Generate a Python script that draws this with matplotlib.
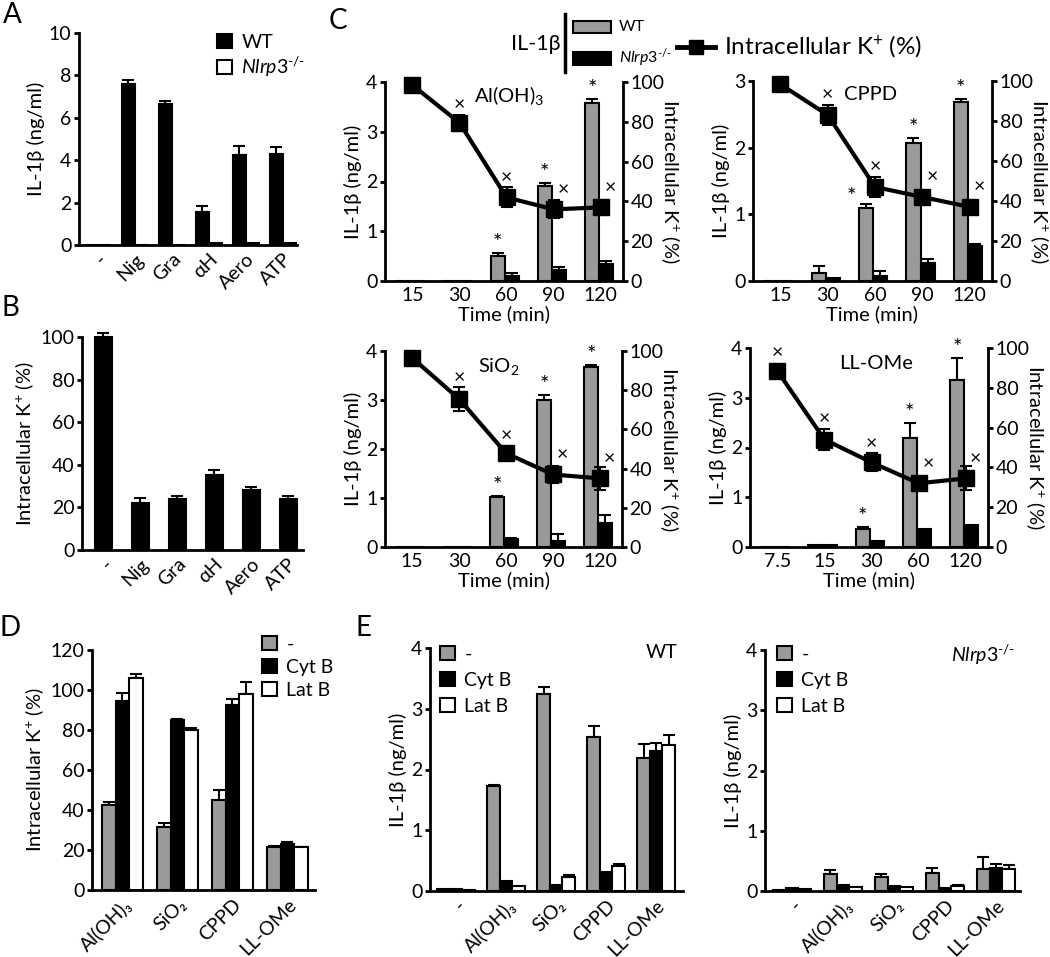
import matplotlib
matplotlib.use('Agg')
import matplotlib.pyplot as plt
import numpy as np
from matplotlib.patches import Rectangle, Patch
from matplotlib.lines import Line2D

FONT = 'Lato'
plt.rcParams['font.family'] = [FONT, 'DejaVu Sans']
plt.rcParams['mathtext.fontset'] = 'custom'
plt.rcParams['mathtext.rm'] = FONT
plt.rcParams['mathtext.it'] = FONT + ':italic'
plt.rcParams['mathtext.bf'] = FONT + ':bold'
plt.rcParams['font.size'] = 14

GREY = '#9a9a9a'
W, H = 1050, 957
FS = 14      # tick labels
LS = 14.5    # axis labels
KO = '$\\mathit{Nlrp3}^{\\mathit{\u2010/\u2010}}$'

# ---------------- data ----------------
# Panel A
a_cats = ['-', 'Nig', 'Gra', 'αH', 'Aero', 'ATP']
a_wt = [0, 7.6, 6.65, 1.55, 4.25, 4.3]
a_wt_err = [0, 0.2, 0.15, 0.3, 0.4, 0.3]
a_ko = [0, 0, 0, 0.08, 0.08, 0.08]
a_ko_err = [0, 0, 0, 0, 0, 0]

# Panel B
b_cats = ['-', 'Nig', 'Gra', 'αH', 'Aero', 'ATP']
b_k = [100, 22, 24, 35, 28, 24]
b_k_err = [2, 2.5, 1.5, 2.5, 1.8, 1.5]

# Panel C  (IL-1b ng/ml for WT / Nlrp3-/-, intracellular K+ %)
c_al_times = ['15', '30', '60', '90', '120']
c_al_wt = [0, 0, 0.5, 1.9, 3.58]
c_al_wt_err = [0, 0, 0.07, 0.07, 0.08]
c_al_ko = [0, 0, 0.1, 0.22, 0.35]
c_al_ko_err = [0, 0, 0.06, 0.06, 0.06]
c_al_k = [98.5, 79.5, 42, 36, 37]
c_al_k_err = [1.5, 4, 5, 4.5, 2]
c_al_star = [0, 0, 1, 1, 1]
c_al_cross = [0, 1, 1, 1, 1]

c_cppd_times = ['15', '30', '60', '90', '120']
c_cppd_wt = [0, 0.12, 1.1, 2.07, 2.68]
c_cppd_wt_err = [0, 0.1, 0.05, 0.07, 0.05]
c_cppd_ko = [0, 0.05, 0.08, 0.27, 0.52]
c_cppd_ko_err = [0, 0, 0.07, 0.06, 0.03]
c_cppd_k = [98.3, 83, 47, 42, 37]
c_cppd_k_err = [1.5, 5, 5, 2, 2]
c_cppd_star = [0, 0, 1, 1, 1]
c_cppd_cross = [0, 1, 1, 1, 1]

c_si_times = ['15', '30', '60', '90', '120']
c_si_wt = [0, 0, 1.03, 3.0, 3.67]
c_si_wt_err = [0, 0, 0.02, 0.1, 0.05]
c_si_ko = [0, 0, 0.17, 0.12, 0.48]
c_si_ko_err = [0, 0, 0.01, 0.15, 0.17]
c_si_k = [96.5, 75.5, 47.8, 37, 35]
c_si_k_err = [1, 6, 1, 4.4, 6]
c_si_star = [0, 0, 1, 1, 1]
c_si_cross = [0, 1, 1, 1, 1]

c_ll_times = ['7.5', '15', '30', '60', '120']
c_ll_wt = [0, 0.05, 0.37, 2.2, 3.35]
c_ll_wt_err = [0, 0, 0.03, 0.3, 0.45]
c_ll_ko = [0, 0.05, 0.13, 0.37, 0.45]
c_ll_ko_err = [0, 0, 0, 0, 0]
c_ll_k = [88.5, 54, 42.5, 32, 34.5]
c_ll_k_err = [2, 5.3, 4.5, 2, 6]
c_ll_star = [0, 0, 1, 1, 1]
c_ll_cross = [1, 1, 1, 1, 1]

# Panel D (intracellular K+ %)
d_cats = ['Al(OH)₃', 'SiO₂', 'CPPD', 'LL-OMe']
d_none = [42.5, 31.7, 45, 21.6]
d_none_err = [1.5, 2, 5, 0.5]
d_cytb = [94.6, 85.2, 92.4, 23.2]
d_cytb_err = [4, 0.5, 3, 1]
d_latb = [106, 80, 98.2, 21.4]
d_latb_err = [2, 1, 6, 0.3]

# Panel E (IL-1b ng/ml)
e_cats = ['-', 'Al(OH)₃', 'SiO₂', 'CPPD', 'LL-OMe']
e_wt_none = [0.03, 1.73, 3.25, 2.54, 2.19]
e_wt_none_err = [0, 0.02, 0.1, 0.17, 0.23]
e_wt_cytb = [0.03, 0.17, 0.1, 0.31, 2.31]
e_wt_cytb_err = [0, 0, 0, 0, 0.12]
e_wt_latb = [0.02, 0.08, 0.23, 0.41, 2.41]
e_wt_latb_err = [0, 0, 0.04, 0.04, 0.15]

e_ko_none = [0.02, 0.28, 0.24, 0.3, 0.37]
e_ko_none_err = [0, 0.07, 0.05, 0.09, 0.2]
e_ko_cytb = [0.05, 0.1, 0.09, 0.05, 0.39]
e_ko_cytb_err = [0, 0, 0, 0, 0.06]
e_ko_latb = [0.04, 0.07, 0.07, 0.09, 0.36]
e_ko_latb_err = [0, 0, 0, 0.01, 0.07]

# ---------------- helpers ----------------
fig = plt.figure(figsize=(W / 100, H / 100), dpi=100)


def px_axes(l, t, r, b):
    return fig.add_axes([l / W, 1 - b / H, (r - l) / W, (b - t) / H])


def style(ax, right=False):
    ax.spines['top'].set_visible(False)
    ax.spines['right'].set_visible(right)
    for s in ['left', 'bottom', 'right']:
        ax.spines[s].set_linewidth(2)
    ax.tick_params(axis='y', direction='out', length=3.5, width=2, labelsize=FS, pad=2)
    ax.tick_params(axis='x', length=0, labelsize=FS, pad=4)
    ax.patch.set_visible(False)


def bars(ax, x, vals, err, width, color):
    vals = np.asarray(vals, float)
    err = np.asarray(err, float)
    ax.bar(x, vals, width, color=color, edgecolor='black', linewidth=1.5,
           clip_on=False, zorder=2)
    m = err > 0
    if m.any():
        ax.errorbar(np.asarray(x)[m], vals[m], yerr=[np.zeros(m.sum()), err[m]],
                    fmt='none', ecolor='black', elinewidth=1.5, capsize=4,
                    capthick=1.5, clip_on=False, zorder=1)


def rot_labels(ax, labels):
    ax.set_xticks(np.arange(len(labels)))
    ax.set_xticklabels(labels, rotation=45, ha='right', rotation_mode='anchor')


def sq_legend(ax, handles, labels, x, y, spacing):
    ax.legend(handles, labels, loc='upper left', bbox_to_anchor=(x / W, 1 - y / H),
              bbox_transform=fig.transFigure, frameon=False, handlelength=0.75,
              handleheight=0.75, handletextpad=0.5, labelspacing=spacing,
              borderpad=0, borderaxespad=0, fontsize=FS)


def letter(x, y, s):
    fig.text(x / W, 1 - y / H, s, fontsize=20, ha='left', va='top')


# ---------------- Panel A ----------------
ax = px_axes(79, 33, 297, 245)
style(ax)
x = np.arange(len(a_cats))
bw = 0.36
bars(ax, x - bw / 2, a_wt, a_wt_err, bw, 'black')
bars(ax, x + bw / 2, a_ko, a_ko_err, bw, 'white')
ax.set_xlim(-0.51, 5.38)
ax.set_ylim(0, 10)
ax.set_yticks([0, 2, 4, 6, 8, 10])
rot_labels(ax, a_cats)
ax.set_ylabel('IL-1β (ng/ml)', fontsize=LS, labelpad=3)
sq_legend(ax, [Patch(facecolor='black', edgecolor='black', lw=1.5),
               Patch(facecolor='white', edgecolor='black', lw=1.5)],
          ['WT', KO], 217, 34, 0.2)
letter(3, 2, 'A')

# ---------------- Panel B ----------------
ax = px_axes(82, 337, 303, 550)
style(ax)
x = np.arange(len(b_cats))
bars(ax, x, b_k, b_k_err, 0.46, 'black')
ax.set_xlim(-0.57, 5.4)
ax.set_ylim(0, 100)
ax.set_yticks([0, 20, 40, 60, 80, 100])
rot_labels(ax, b_cats)
ax.set_ylabel('Intracellular K$^{+}$ (%)', fontsize=LS, labelpad=3)
letter(1, 295, 'B')


# ---------------- Panel C ----------------
def c_panel(box, title, tpos, times, wt, wt_err, ko, ko_err, k, k_err, star, cross, ymax):
    ax = px_axes(*box)
    style(ax)
    ax.spines['right'].set_visible(False)
    x = np.arange(len(times))
    bw = 0.3
    bars(ax, x - 0.19, wt, wt_err, bw, GREY)
    bars(ax, x + 0.11, ko, ko_err, bw, 'black')
    ax.set_xlim(-0.58, 4.47)
    ax.set_ylim(0, ymax)
    ax.set_yticks(np.arange(0, ymax + 1, 1))
    ax.set_xticks(x)
    ax.set_xticklabels(times)
    ax.set_xlabel('Time (min)', fontsize=LS, labelpad=1)
    ax.set_ylabel('IL-1β (ng/ml)', fontsize=LS, labelpad=3)
    ax2 = ax.twinx()
    ax2.spines['top'].set_visible(False)
    ax2.spines['left'].set_visible(False)
    ax2.spines['bottom'].set_visible(False)
    ax2.spines['right'].set_linewidth(2)
    ax2.tick_params(axis='y', direction='out', length=3.5, width=2, labelsize=FS, pad=2)
    ax2.set_ylim(0, 100)
    ax2.set_yticks([0, 20, 40, 60, 80, 100])
    ax2.errorbar(x, k, yerr=k_err, fmt='-s', color='black', lw=3, ms=11,
                 elinewidth=1.5, capsize=4, capthick=1.5, clip_on=False, zorder=3)
    ax2.set_ylabel('Intracellular K$^{+}$ (%)', fontsize=LS, rotation=270,
                   va='center', ha='center')
    ax2.yaxis.set_label_coords(1.2, 0.5)
    ax2.patch.set_visible(False)
    # significance marks
    wt = np.asarray(wt, float)
    wt_err = np.asarray(wt_err, float)
    for i in range(len(times)):
        top_pct = (wt[i] + wt_err[i]) / ymax * 100
        if cross[i]:
            dx = 0.2 if top_pct > k[i] else 0.0
            yk = k[i] + max(k_err[i], 4) + 5
            if dx:
                yk = k[i] + 10
            ax2.text(i + dx, yk, '×', ha='center', va='center', fontsize=14)
        if star[i]:
            ys = top_pct + 5
            xs = i - 0.19
            if abs(ys - k[i]) < 10:
                xs = i - 0.5
                ys = top_pct + 3.5
            ax2.text(xs, ys, '*', ha='center', va='center', fontsize=16)
    ax.text(tpos[0], tpos[1], title, transform=ax.transAxes, ha='center',
            va='center', fontsize=LS)
    return ax


c_panel((385, 82, 623, 281), 'Al(OH)$_3$', (0.52, 0.93), c_al_times, c_al_wt,
        c_al_wt_err, c_al_ko, c_al_ko_err, c_al_k, c_al_k_err, c_al_star,
        c_al_cross, 4)
c_panel((753, 81, 992, 281), 'CPPD', (0.49, 0.93), c_cppd_times, c_cppd_wt,
        c_cppd_wt_err, c_cppd_ko, c_cppd_ko_err, c_cppd_k, c_cppd_k_err,
        c_cppd_star, c_cppd_cross, 3)
c_panel((385, 351, 622, 547), 'SiO$_2$', (0.48, 0.92), c_si_times, c_si_wt,
        c_si_wt_err, c_si_ko, c_si_ko_err, c_si_k, c_si_k_err, c_si_star,
        c_si_cross, 4)
c_panel((750, 348, 988, 547), 'LL-OMe', (0.53, 0.92), c_ll_times, c_ll_wt,
        c_ll_wt_err, c_ll_ko, c_ll_ko_err, c_ll_k, c_ll_k_err, c_ll_star,
        c_ll_cross, 4)

letter(329, 8, 'C')
# Panel C legend (figure coords)
fig.text(536 / W, 1 - 44 / H, 'IL-1β', ha='center', va='center', fontsize=15.5)
fig.add_artist(Line2D([565 / W, 565 / W], [1 - 14 / H, 1 - 72 / H], color='black', lw=2.5))
fig.add_artist(Rectangle((573 / W, 1 - 33 / H), 38 / W, 12 / H, transform=fig.transFigure,
                         facecolor=GREY, edgecolor='black', lw=1.5))
fig.add_artist(Rectangle((573 / W, 1 - 65 / H), 38 / W, 13 / H, transform=fig.transFigure,
                         facecolor='black', edgecolor='black', lw=1.5))
fig.text(619 / W, 1 - 27 / H, 'WT', ha='left', va='center', fontsize=11.5)
fig.text(619 / W, 1 - 58 / H, KO, ha='left', va='center', fontsize=11.5)
fig.add_artist(Line2D([677 / W, 715 / W], [1 - 47 / H, 1 - 47 / H], color='black', lw=3.5))
fig.add_artist(Line2D([696 / W], [1 - 47 / H], color='black', marker='s', ms=10, lw=0))
fig.text(724 / W, 1 - 47 / H, 'Intracellular K$^{+}$ (%)', ha='left', va='center',
         fontsize=17.5)

# ---------------- Panel D ----------------
ax = px_axes(92, 650, 315, 890)
style(ax)
x = np.arange(len(d_cats))
bw = 0.245
bars(ax, x - bw, d_none, d_none_err, bw, GREY)
bars(ax, x, d_cytb, d_cytb_err, bw, 'black')
bars(ax, x + bw, d_latb, d_latb_err, bw, 'white')
ax.set_xlim(-0.55, 3.5)
ax.set_ylim(0, 120)
ax.set_yticks([0, 20, 40, 60, 80, 100, 120])
rot_labels(ax, d_cats)
ax.set_ylabel('Intracellular K$^{+}$ (%)', fontsize=LS, labelpad=3)
leg_h = [Patch(facecolor=GREY, edgecolor='black', lw=1.5),
         Patch(facecolor='black', edgecolor='black', lw=1.5),
         Patch(facecolor='white', edgecolor='black', lw=1.5)]
leg_l = ['-', 'Cyt B', 'Lat B']
sq_legend(ax, leg_h, leg_l, 262, 636, 0.3)
letter(0, 615, 'D')


# ---------------- Panel E ----------------
def e_panel(box, xlim, none, none_err, cytb, cytb_err, latb, latb_err, tag, legx):
    ax = px_axes(*box)
    style(ax)
    x = np.arange(len(e_cats))
    bw = 0.25
    bars(ax, x - bw, none, none_err, bw, GREY)
    bars(ax, x, cytb, cytb_err, bw, 'black')
    bars(ax, x + bw, latb, latb_err, bw, 'white')
    ax.set_xlim(*xlim)
    ax.set_ylim(0, 4)
    ax.set_yticks([0, 1, 2, 3, 4])
    rot_labels(ax, e_cats)
    ax.set_ylabel('IL-1β (ng/ml)', fontsize=LS, labelpad=3)
    sq_legend(ax, leg_h, leg_l, legx, 646, 0.45)
    ax.text(0.98, 0.98, tag, transform=ax.transAxes, ha='right', va='center', fontsize=FS)
    return ax


e_panel((430, 648, 683, 891), (-0.52, 4.54), e_wt_none, e_wt_none_err, e_wt_cytb,
        e_wt_cytb_err, e_wt_latb, e_wt_latb_err, 'WT', 440)
e_panel((765, 650, 1020, 891), (-0.53, 4.47), e_ko_none, e_ko_none_err, e_ko_cytb,
        e_ko_cytb_err, e_ko_latb, e_ko_latb_err, KO, 777)
letter(355, 615, 'E')

fig.savefig('out.png', dpi=100)
